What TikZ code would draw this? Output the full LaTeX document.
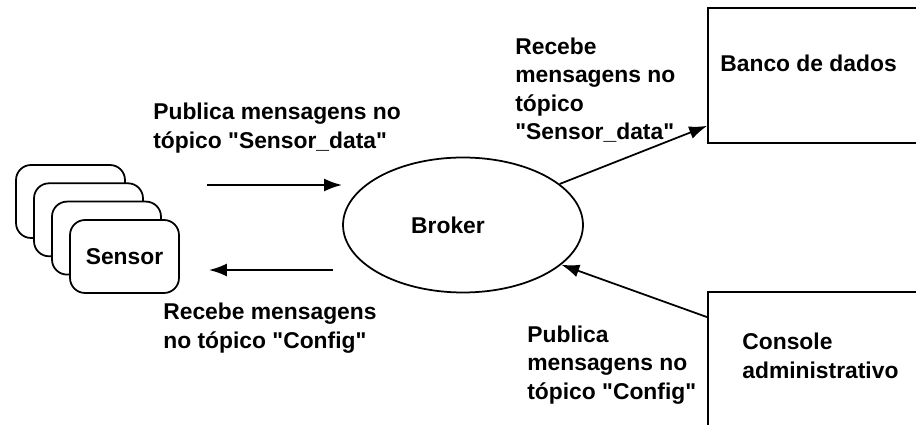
\documentclass[tikz,border=0pt]{standalone}
\usepackage{fontspec}
\setmainfont{Liberation Sans}
\usepackage{tikz}
\usetikzlibrary{arrows.meta}
\usetikzlibrary{shapes}
\tikzset{
  txt_n/.style = {align=left, inner sep=0pt, anchor=west,
    font=\fontsize{13}{16.2}\selectfont\bfseries},% texto solto
  sen_n/.style = {txt_n, anchor=center, rectangle, rounded corners=0.3cm,
    draw=black, fill=white, line width=1pt,
    minimum width=2.18cm, minimum height=1.46cm},% sensor
  brk_n/.style = {txt_n, anchor=center, ellipse, draw=black, line width=1pt,
    minimum width=4.8cm, minimum height=2.7cm},% broker
  box_n/.style = {rectangle, draw=black, line width=1pt,
    minimum width=4.44cm},% banco / console
  seta/.style = {-{Latex[length=0.36cm,width=0.26cm]}, line width=1pt}
}
\newcommand{\aspas}{\textquotedbl}

\begin{document}
\begin{tikzpicture}[x=0.02cm,y=-0.02cm]
\useasboundingbox (0,0) rectangle (916,425);
\clip (0,0) rectangle (916,425);
% pilha de sensores
\foreach \i in {0,1,2}
  \node [sen_n] (s\i) at (70.5+18*\i,201.5+18.3*\i) {};
\node [sen_n] (sensor) at (124.5,256.5) {Sensor};
\node [brk_n, label={[txt_n,anchor=center,xshift=-0.3cm]center:Broker}] (br) at (463,225) {};
\node [box_n, minimum height=2.7cm] (bd) at (819,75.5) {};
\node [box_n, minimum height=2.96cm] (cs) at (819,366) {};
\node [txt_n] (tbd) at (720,63) {Banco de dados};
\node [txt_n] (tcs) at (742,356) {Console\\administrativo};
% setas
\coordinate (p1) at (207,185);
\coordinate (p2) at (342,185);
\coordinate (r1) at (333,270);
\coordinate (r2) at (209,270);
\draw [seta] (p1) -- (p2);
\draw [seta] (r1) -- (r2);
\draw [seta] (br.23) -- ([yshift=0.36cm]bd.south west);
\draw [seta] ([yshift=-0.52cm]cs.north west) -- (br.-22);
% rotulos
\node [txt_n] (l1) at (153,128) {Publica mensagens no\\t\'opico \aspas Sensor\_data\aspas};
\node [txt_n] (l2) at (163,328) {Recebe mensagens\\no t\'opico \aspas Config\aspas};
\node [txt_n] (l3) at (515,90) {Recebe\\mensagens no\\t\'opico\\\aspas Sensor\_data\aspas};
\node [txt_n] (l4) at (527,365) {Publica\\mensagens no\\t\'opico \aspas Config\aspas};
\end{tikzpicture}
\end{document}
